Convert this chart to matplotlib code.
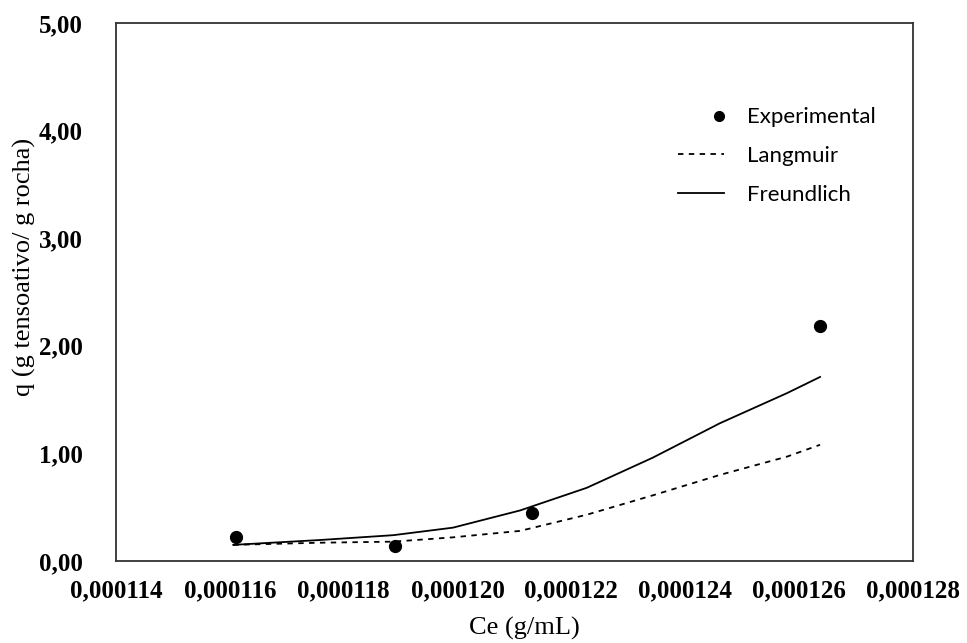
import numpy as np
import matplotlib.pyplot as plt
from matplotlib.ticker import FuncFormatter
from matplotlib.legend_handler import HandlerLine2D

# === DATA ===
ce_exp = [0.00011611, 0.0001189, 0.0001213, 0.00012637]
q_exp = [0.22, 0.14, 0.45, 2.18]

ce_model = [0.00011606, 0.00011758, 0.00011887, 0.00011992, 0.00012110,
            0.00012227, 0.00012343, 0.00012461, 0.00012579, 0.00012637]
q_langmuir = [0.15, 0.17, 0.18, 0.22, 0.28, 0.43, 0.61, 0.80, 0.97, 1.08]
q_freundlich = [0.15, 0.195, 0.24, 0.31, 0.47, 0.68, 0.96, 1.28, 1.56, 1.71]

x_ticks = [0.000114, 0.000116, 0.000118, 0.000120, 0.000122, 0.000124, 0.000126, 0.000128]
y_ticks = [0, 1, 2, 3, 4, 5]


# legend handler that puts the marker at the right end of the handle
class RightDot(HandlerLine2D):
    def get_xdata(self, legend, xdescent, ydescent, width, height, fontsize):
        x = [width - xdescent - 4, width - xdescent - 4]
        return x, x


# === PLOT ===
fig = plt.figure(figsize=(9.67, 6.43), dpi=100)
ax = fig.add_axes([0.12, 0.1275, 0.824, 0.837])

exp_line, = ax.plot(ce_exp, q_exp, 'o', color='black', markersize=8.5, label='Experimental')
ax.plot(ce_model, q_langmuir, '--', color='black', lw=1.3, dashes=(3, 3), label='Langmuir')
ax.plot(ce_model, q_freundlich, '-', color='black', lw=1.3, label='Freundlich')

ax.set_xlim(0.000114, 0.000128)
ax.set_ylim(0, 5)
ax.set_xticks(x_ticks)
ax.set_yticks(y_ticks)
ax.xaxis.set_major_formatter(FuncFormatter(lambda v, p: f"{v:.6f}".replace('.', ',')))
ax.yaxis.set_major_formatter(FuncFormatter(lambda v, p: f"{v:.2f}".replace('.', ',')))

serif = 'Liberation Serif'
for lab in ax.get_xticklabels() + ax.get_yticklabels():
    lab.set_fontfamily(serif)
    lab.set_fontweight('bold')
    lab.set_fontsize(18)
ax.tick_params(axis='x', length=0, pad=13)
ax.tick_params(axis='y', length=0, pad=24)

for s in ax.spines.values():
    s.set_linewidth(1.3)
    s.set_color('#333333')

ax.set_xlabel("Ce (g/mL)", fontfamily=serif, fontsize=19)
ax.set_ylabel("q (g tensoativo/ g rocha)", fontfamily=serif, fontsize=19)
ax.xaxis.set_label_coords(0.513, -0.104)
ax.yaxis.set_label_coords(-0.101, 0.546)

leg = ax.legend(loc='upper left', bbox_to_anchor=(0.705, 0.843), frameon=False,
                prop={'family': 'Lato', 'size': 16}, handlelength=2.1, handletextpad=1.0,
                labelspacing=0.85, numpoints=1, borderaxespad=0, borderpad=0,
                handler_map={exp_line: RightDot(numpoints=1)})
leg.legend_handles[0].set_markersize(7)

fig.savefig('out.png', dpi=100)
